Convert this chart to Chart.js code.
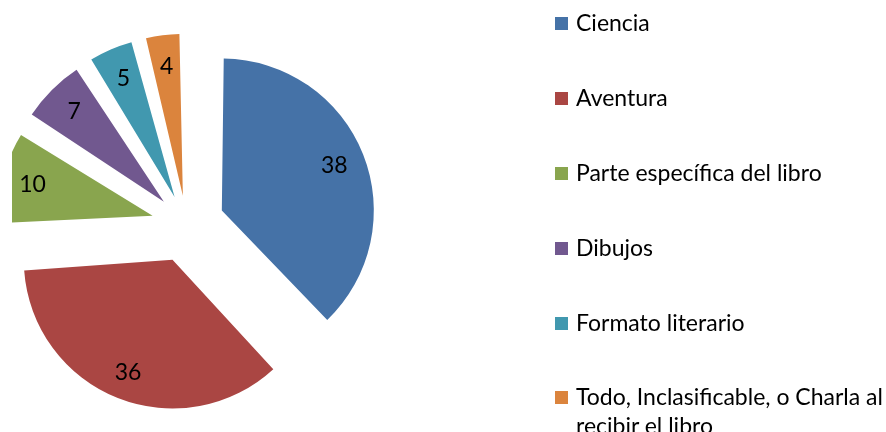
<!DOCTYPE html>
<html>
<head>
<meta charset="utf-8">
<script src="https://cdn.jsdelivr.net/npm/chart.js@4/dist/chart.umd.min.js"></script>
<style>
  html, body { margin: 0; padding: 0; background: #ffffff; }
  #wrap { position: relative; width: 886px; height: 432px; overflow: hidden; background: #fff; }
  #c { position: absolute; left: 0; top: 0; }
  .item { position: absolute; left: 555px; font-family: Lato, "Open Sans", sans-serif; font-size: 23px; line-height: 29px; color: #000; }
  .box { position: absolute; left: 0; top: 9px; width: 13px; height: 13px; }
  .txt { position: absolute; left: 21px; top: 0; width: 312px; white-space: normal; }
</style>
</head>
<body>
<div id="wrap">
  <canvas id="c" width="886" height="432"></canvas>
  <div id="legend"></div>
</div>
<script>
// ---- data ----
const categories = [
  "Ciencia",
  "Aventura",
  "Parte específica del libro",
  "Dibujos",
  "Formato literario",
  "Todo, Inclasificable, o Charla al recibir el libro"
];
const values = [38, 36, 10, 7, 5, 4];

// ---- styles ----
const colors = ["#4572A7", "#AA4643", "#89A54E", "#71588F", "#4198AF", "#DB843D"];
const explodeOffsets = [152, 152, 140, 128, 120, 116];
const labelRadius = 159;

const sliceLabels = {
  id: 'sliceLabels',
  afterDatasetsDraw(chart) {
    const meta = chart.getDatasetMeta(0);
    const ctx = chart.ctx;
    ctx.save();
    ctx.font = '23px Lato, "Open Sans", sans-serif';
    ctx.fillStyle = '#000';
    ctx.textAlign = 'center';
    ctx.textBaseline = 'middle';
    meta.data.forEach((arc, i) => {
      const mid = (arc.startAngle + arc.endAngle) / 2;
      ctx.fillText(String(values[i]), arc.x + Math.cos(mid) * labelRadius, arc.y + Math.sin(mid) * labelRadius);
    });
    ctx.restore();
  }
};

new Chart(document.getElementById('c'), {
  type: 'pie',
  data: {
    labels: categories,
    datasets: [{
      data: values,
      backgroundColor: colors,
      borderWidth: 0,
      offset: explodeOffsets,
      radius: 140,
      clip: { left: -12, top: false, right: false, bottom: false }
    }]
  },
  options: {
    responsive: false,
    animation: false,
    events: [],
    layout: { padding: { left: 0, top: 17, right: 513, bottom: 0 } },
    plugins: { legend: { display: false }, tooltip: { enabled: false } }
  },
  plugins: [sliceLabels]
});

// ---- legend (HTML, built from the arrays) ----
const legend = document.getElementById('legend');
categories.forEach((name, i) => {
  const item = document.createElement('div');
  item.className = 'item';
  item.style.top = (8.3 + i * 74.8) + 'px';
  const box = document.createElement('span');
  box.className = 'box';
  box.style.background = colors[i];
  const txt = document.createElement('span');
  txt.className = 'txt';
  txt.textContent = name;
  item.appendChild(box);
  item.appendChild(txt);
  legend.appendChild(item);
});
</script>
</body>
</html>
